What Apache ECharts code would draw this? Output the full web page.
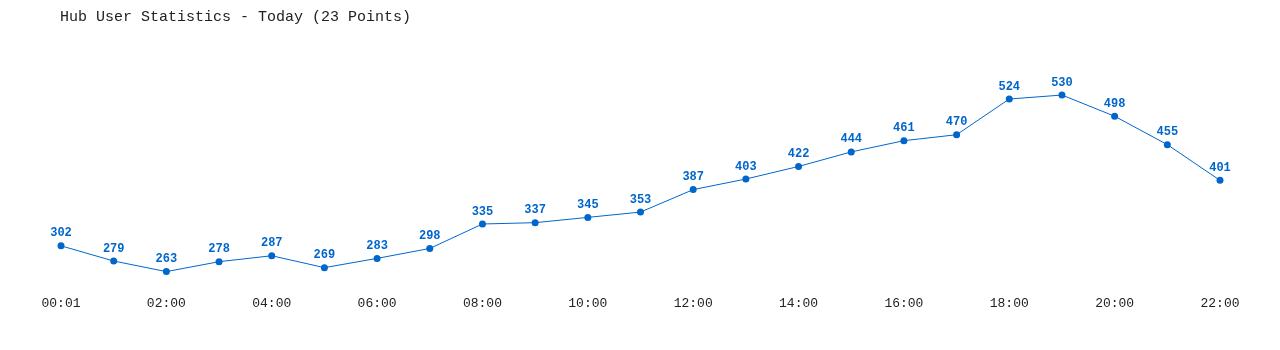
<!DOCTYPE html>
<html><head><meta charset="utf-8">
<script src="https://cdn.jsdelivr.net/npm/echarts@6/dist/echarts.min.js"></script>
<style>html,body{margin:0;padding:0;background:#fff}#c{width:1280px;height:350px}</style>
</head><body><div id="c"></div>
<script>
const categories = ["00:01","01:00","02:00","03:00","04:00","05:00","06:00","07:00","08:00","09:00","10:00","11:00","12:00","13:00","14:00","15:00","16:00","17:00","18:00","19:00","20:00","21:00","22:00"];
const users = [302,279,263,278,287,269,283,298,335,337,345,353,387,403,422,444,461,470,524,530,498,455,401];
const titleText = "Hub User Statistics - Today (23 Points)";
const mono = "'Liberation Mono','DejaVu Sans Mono',monospace";
const chart = echarts.init(document.getElementById('c'), null, {renderer:'canvas'});
chart.setOption({
  animation:false,
  title:{text:titleText,left:60,top:10,padding:0,textStyle:{fontFamily:mono,fontSize:15,fontWeight:'normal',color:'#222'}},
  grid:{left:61,right:60,top:60,bottom:61},
  xAxis:{type:'category',data:categories,boundaryGap:false,
    axisLine:{show:false},axisTick:{show:false},splitLine:{show:false},
    axisLabel:{interval:1,margin:8,fontFamily:mono,fontSize:13,color:'#222'}},
  yAxis:{type:'value',min:v=>v.min*0.9,max:v=>v.max*1.1,show:false,splitLine:{show:false}},
  series:[{type:'line',data:users,color:'#0066cc',
    lineStyle:{width:1,color:'#0066cc'},symbol:'circle',symbolSize:7,
    itemStyle:{color:'#0066cc'},
    label:{show:true,position:'top',distance:3,fontFamily:mono,fontSize:12,fontWeight:'bold',color:'#0066cc'}}]
});
</script></body></html>
